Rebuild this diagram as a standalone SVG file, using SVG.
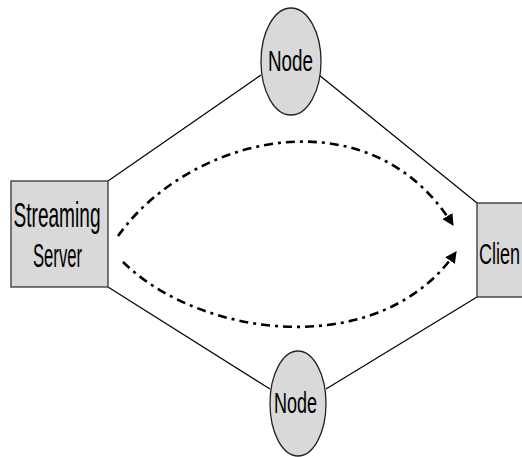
<svg xmlns="http://www.w3.org/2000/svg" width="522" height="457" viewBox="0 0 522 457">
<style>
.box{fill:#d9d9d9;stroke:#333;stroke-width:1.3}
.ell{fill:#d9d9d9;stroke:#222;stroke-width:1.3}
.lbl{font-family:"Liberation Sans",Arial,sans-serif;fill:#000}
.edge{fill:none;stroke:#000;stroke-width:1.2}
.flow{fill:none;stroke:#000;stroke-width:2.6;stroke-dasharray:9 5 3 5}
</style>
<defs>
<marker id="ah" viewBox="0 0 10 10" refX="9" refY="5" markerWidth="4.5" markerHeight="4.5" markerUnits="strokeWidth" orient="auto">
<path d="M0,0 L10,5 L0,10 Z" fill="#000"/>
</marker>
</defs>
<rect width="522" height="457" fill="#fff"/>
<g id="connectors">
<line class="edge" x1="108" y1="181" x2="261" y2="75"/>
<line class="edge" x1="319" y1="75" x2="477" y2="203"/>
<line class="edge" x1="108" y1="287" x2="270" y2="389"/>
<line class="edge" x1="326" y1="389" x2="477" y2="297"/>
<path class="flow" d="M118,236 C190,135 370,92 453,225" marker-end="url(#ah)"/>
<path class="flow" d="M123,262 C200,338 380,362 456,252" marker-end="url(#ah)"/>
</g>
<g id="server">
<rect class="box" x="11" y="181" width="97" height="106"/>
<text class="lbl" x="57" y="227" font-size="35" text-anchor="middle" textLength="87" lengthAdjust="spacingAndGlyphs">Streaming</text>
<text class="lbl" x="57.5" y="267" font-size="33" text-anchor="middle" textLength="49" lengthAdjust="spacingAndGlyphs">Server</text>
</g>
<g id="node-top">
<ellipse class="ell" cx="291" cy="61.5" rx="30" ry="53.5"/>
<text class="lbl" x="290.5" y="71" font-size="29" text-anchor="middle" textLength="45" lengthAdjust="spacingAndGlyphs">Node</text>
</g>
<g id="node-bottom">
<ellipse class="ell" cx="298" cy="403.5" rx="28" ry="52.5"/>
<text class="lbl" x="295.5" y="413" font-size="29" text-anchor="middle" textLength="43" lengthAdjust="spacingAndGlyphs">Node</text>
</g>
<g id="client">
<rect class="box" x="477" y="203" width="60" height="94"/>
<text class="lbl" x="479" y="264" font-size="30" textLength="41" lengthAdjust="spacingAndGlyphs">Clien</text>
</g>
</svg>
